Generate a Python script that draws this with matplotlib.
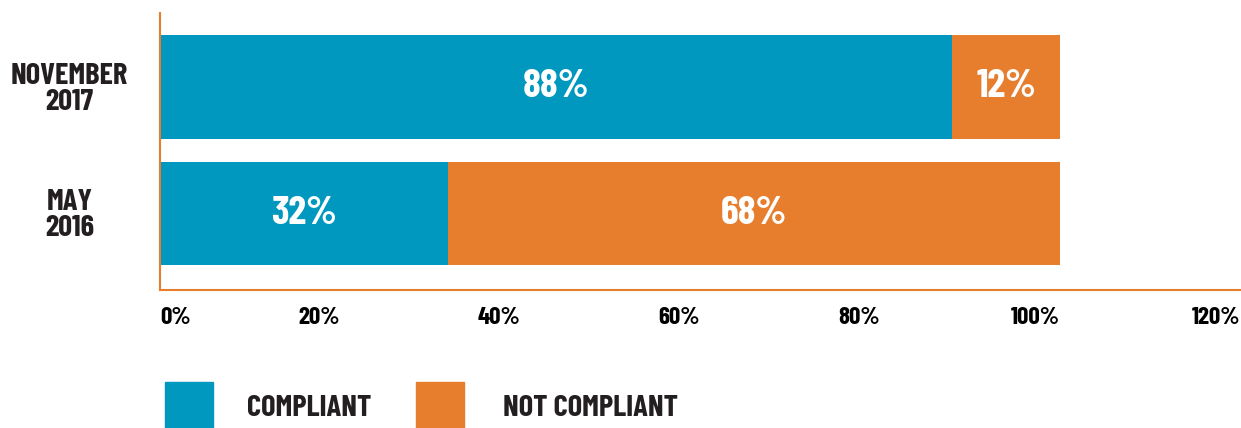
import matplotlib
matplotlib.use("Agg")
import matplotlib.pyplot as plt
from matplotlib.patches import Rectangle

plt.rcParams['font.family'] = ['Barlow Condensed', 'Roboto Condensed', 'Oswald', 'DejaVu Sans']
plt.rcParams['font.weight'] = 'bold'

# data
periods = ['MAY\n2016', 'NOVEMBER\n2017']
compliant = [32, 88]
not_compliant = [68, 12]
series_names = ['COMPLIANT', 'NOT COMPLIANT']
ticks = [0, 20, 40, 60, 80, 100, 120]

blue = '#0098bf'
orange = '#e67e2e'
dark = '#231f20'

fig = plt.figure(figsize=(12.41, 4.28), dpi=100)
ax = fig.add_axes([160/1241, 1 - 290/428, 1080/1241, 277/428])

ypos = list(range(len(periods)))
h = 0.82
ax.barh(ypos, compliant, height=h, color=blue)
ax.barh(ypos, not_compliant, left=compliant, height=h, color=orange)

# value labels inside each segment
for y, c, n in zip(ypos, compliant, not_compliant):
    ax.text(c / 2, y, f'{c}%', ha='center', va='center', color='white', fontsize=29)
    ax.text(c + n / 2, y, f'{n}%', ha='center', va='center', color='white', fontsize=29)

ax.set_xlim(0, 120)
ax.set_ylim(-0.605, 1.585)

for s in ['top', 'right']:
    ax.spines[s].set_visible(False)
for s in ['left', 'bottom']:
    ax.spines[s].set_color(orange)
    ax.spines[s].set_linewidth(1.5)

ax.set_yticks(ypos)
ax.set_yticklabels(periods, fontsize=22, color=dark, linespacing=0.95, ha='center')
ax.tick_params(axis='y', length=0, pad=65)

ax.set_xticks(ticks)
ax.set_xticklabels([f'{t}%' for t in ticks], fontsize=18, color='black')
ax.tick_params(axis='x', length=0, pad=12)
for i, lab in enumerate(ax.get_xticklabels()):
    lab.set_ha('left' if i == 0 else 'right')

# legend drawn in figure coords
colors = [blue, orange]
box_x = [165, 416]
text_x = [247, 503]
for name, col, bx, tx in zip(series_names, colors, box_x, text_x):
    fig.patches.append(Rectangle((bx/1241, 0), 48/1241, 46/428, transform=fig.transFigure,
                                 color=col))
    fig.text(tx/1241, 20/428, name, ha='left', va='center', fontsize=22, color=dark)

fig.savefig('out.png', dpi=100)
